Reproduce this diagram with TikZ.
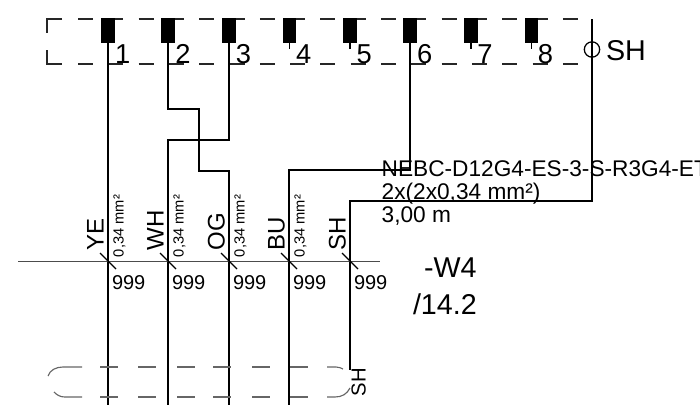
\documentclass[tikz,border=0pt]{standalone}
\usepackage{fontspec}
\setmainfont{Liberation Sans}
\tikzset{
  x=0.75pt,y=-0.75pt,
  wire/.style={draw=black,line width=1.1pt,line join=miter},
  frame/.style={draw=black!85,line width=0.95pt},
  bus/.style={draw=black!70,line width=0.75pt},
  tick/.style={draw=black,line width=0.85pt},
  shield/.style={draw=black!60,line width=0.85pt},
  pinbox/.style={fill=black,draw=none,minimum width=10.2pt,minimum height=18.4pt,inner sep=0pt,anchor=north},
  txt/.style={inner sep=0pt,outer sep=0pt,anchor=base west,text=black},
  numlab/.style={txt,font=\fontsize{20.5pt}{20.5pt}\selectfont},
  shlab/.style={txt,font=\fontsize{21.5pt}{21.5pt}\selectfont},
  biglab/.style={txt,font=\fontsize{21.5pt}{21.5pt}\selectfont},
  cablab/.style={txt,font=\fontsize{17pt}{17pt}\selectfont},
  collab/.style={txt,rotate=90,font=\fontsize{18pt}{18pt}\selectfont},
  seclab/.style={txt,rotate=90,font=\fontsize{11pt}{11pt}\selectfont},
  termlab/.style={txt,font=\fontsize{15pt}{15pt}\selectfont},
}
\begin{document}
\begin{tikzpicture}
\useasboundingbox (0,0) rectangle (700,405);
\clip (0,0) rectangle (700,405);

% frame of the connector
\draw[frame] (62,19) -- (47,19) -- (47,33);
\draw[frame] (47,50) -- (47,64) -- (62,64);
\foreach \k in {0,...,16}{
  \pgfmathsetmacro{\xa}{78+30.3*\k}
  \pgfmathsetmacro{\xb}{\xa+15}
  \draw[frame] (\xa,19) -- (\xb,19);
  \draw[frame] (\xa,64) -- (\xb,64);
}

% pins
\foreach \i/\x in {1/108,2/168,3/229,4/289.3,5/350,6/410,7/471,8/531.5}{
  \node[pinbox] (p\i) at (\x,18) {};
  \coordinate (s\i) at (\x,49);
  \draw[wire] (p\i.south) -- (s\i);
}
\foreach \i/\x in {1/115,2/175.4,3/235.8,4/296.2,5/356.6,6/417,7/477.4,8/537.8}{
  \node[numlab] (n\i) at (\x,63.5) {\i};
}

% shield terminal
\coordinate (shtop) at (592,19);
\node[circle,draw=black,line width=0.95pt,minimum size=11.5pt,inner sep=0pt,fill=none] (shc) at (592,49.5) {};
\node[shlab] (shl) at (606,60) {SH};

% wires
\coordinate (e1) at (108,405);
\coordinate (e2) at (229,405);
\coordinate (e3) at (168,405);
\coordinate (e6) at (289,405);
\coordinate (esh) at (350,370);
\draw[wire] (p1.south) -- (e1);
\draw[wire] (p2.south) |- (199,109) |- (229,171) -- (e2);
\draw[wire] (p3.south) |- (168,140) -- (e3);
\draw[wire] (p6.south) |- (289,170) -- (e6);
\draw[wire] (shtop) |- (350,201) -- (esh);

% cable bar
\coordinate (b0) at (18,261);
\coordinate (b1) at (380,261);
\draw[bus] (b0) -- (b1);
\foreach \x/\c/\s in {108/YE/1,168/WH/1,229/OG/1,289/BU/1,350/SH/0}{
  \coordinate (tk) at (\x,261);
  \draw[tick] ([xshift=-6pt,yshift=6pt]tk) -- ([xshift=6pt,yshift=-6pt]tk);
  \node[collab] at (\x-4.5,250) {\c};
  \if\s1\node[seclab] at (\x+15.5,257) {0,34 mm²};\fi
  \node[termlab] at (\x+4,289) {999};
}

% cable text
\node[cablab] (c1) at (381.7,176.5) {NEBC-D12G4-ES-3-S-R3G4-ET};
\node[cablab] (c2) at (381.7,199.5) {2x(2x0,34 mm²)};
\node[cablab] (c3) at (381.7,222.5) {3,00 m};
\node[biglab] (w4) at (424,277) {-W4};
\node[biglab] (pg) at (413,314.5) {/14.2};

% bottom shield
\draw[shield] (48,376) .. controls (50,370) and (56,367) .. (63,367) -- (82,367);
\draw[shield] (54,392) .. controls (57,395) and (60,397) .. (65,397) -- (82,397);
\foreach \a in {100,138,177,213,252,290}{
  \pgfmathsetmacro{\b}{\a+18}
  \draw[shield] (\a,367) -- (\b,367);
  \draw[shield] (\a,397) -- (\b,397);
}
\draw[shield] (327,367) -- (336,367) .. controls (339,367) and (341,368) .. (343,369);
\draw[shield] (327,397) -- (335,397) .. controls (342,397) and (347,394) .. (350,388);
\node[txt,rotate=90,font=\fontsize{15.2pt}{15.2pt}\selectfont] (shb) at (365.5,396) {SH};
\end{tikzpicture}
\end{document}
